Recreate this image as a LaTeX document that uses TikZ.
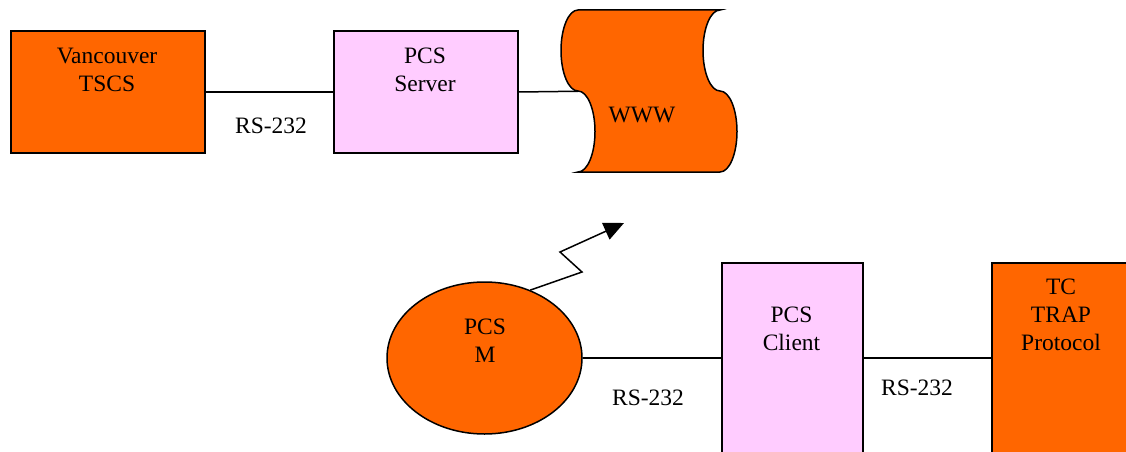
\documentclass[tikz,border=0pt]{standalone}
\usepackage{fontspec}
\setmainfont{Liberation Serif}
\usetikzlibrary{shapes.geometric,arrows.meta}

\definecolor{boxorange}{HTML}{FF6600}
\definecolor{boxpink}{HTML}{FFCCFF}

\tikzset{
  unit/.style={draw=black, line width=1.5pt, inner sep=0pt, anchor=north west},
  hot/.style={unit, fill=boxorange},
  soft/.style={unit, fill=boxpink},
  % base anchor sits on the last line of a multi-line caption
  caption/.style={inner sep=0pt, anchor=base, align=center,
    font=\fontsize{23.5}{27.8}\selectfont},
  wire/.style={draw=black, line width=1.5pt},
}

\begin{document}
\begin{tikzpicture}[x=1pt, y=-1pt]
\useasboundingbox (0,0) rectangle (1126,452);
\clip (0,0) rectangle (1126,452);

% upper row
\node[hot, minimum width=194pt, minimum height=121.5pt] (tscs) at (10,30.5) {};
\node[soft, minimum width=184pt, minimum height=121.5pt] (server) at (333,30.5) {};

% WWW: sheet whose left and right edges are made of half-ellipse waves
\draw[line width=1.5pt, fill=boxorange]
  (578,10) arc[start angle=270, end angle=90, x radius=17, y radius=40.5]
           arc[start angle=270, end angle=450, x radius=17, y radius=40.5]
  -- (720,172)
           arc[start angle=90, end angle=-90, x radius=17, y radius=40.5]
           arc[start angle=90, end angle=270, x radius=17, y radius=40.5]
  -- cycle;
\coordinate (www-w) at (578,91.25);

\node[caption] (tscs-t) at (107,91.7) {Vancouver\\TSCS};
\node[caption] (server-t) at (425,91.7) {PCS\\Server};
\node[caption] (www-t) at (642,122) {WWW};
\node[caption] (rs1) at (271,133.3) {RS-232};

\draw[wire] (tscs.east) -- (server.west);
\draw[wire] (server.east) -- (www-w);

% lower row
\node[draw=black, line width=1.5pt, fill=boxorange, ellipse, inner sep=0pt,
  minimum width=195pt, minimum height=152pt] (pcsm) at (484.5,358) {};
\node[soft, minimum width=141pt, minimum height=230pt] (client) at (721,262) {};
\node[hot, minimum width=144pt, minimum height=230pt] (trap) at (991,262) {};

\node[caption] (pcsm-t) at (485,362) {PCS\\M};
\node[caption] (client-t) at (791.5,350) {PCS\\Client};
\node[caption] (trap-t) at (1061,350) {TC\\TRAP\\Protocol};
\node[caption] (rs2) at (648,405) {RS-232};
\node[caption] (rs3) at (917,395) {RS-232};

\draw[wire] (pcsm.east) -- (pcsm.east -| client.west);
\draw[wire] (pcsm.east -| client.east) -- (pcsm.east -| trap.west);

% radio link
\coordinate (radio) at (624,223);
\draw[wire, -{Triangle[length=20pt, width=18pt]}]
  (pcsm.56.4) -- (582,272) -- (560,252) -- (radio);
\end{tikzpicture}
\end{document}
